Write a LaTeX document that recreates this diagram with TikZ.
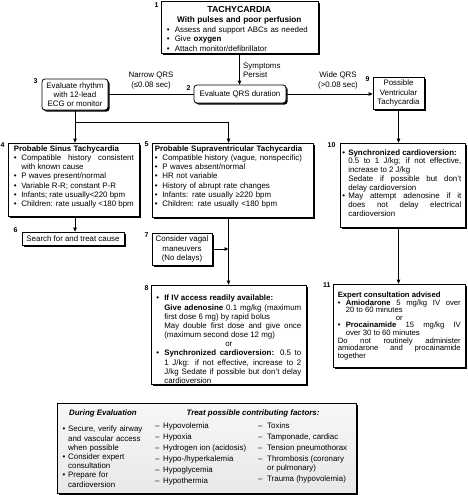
\documentclass[tikz,border=0pt]{standalone}
\usepackage{fontspec}
\setmainfont{Liberation Sans}
\usetikzlibrary{shadows,arrows.meta,calc}
\newcommand{\Fsz}{\fontsize{7.9}{9.15}\selectfont}
\newlength{\Hng}
\setlength{\Hng}{7.5pt}
\newcommand{\Bul}{\par\noindent\hangindent=\Hng\hangafter=1\makebox[\Hng][l]{\textbullet}\ignorespaces}
\newcommand{\Cont}{\par\noindent\hangindent=\Hng\hangafter=0\ignorespaces}
\newcommand{\Ctr}[1]{\par\noindent\makebox[\linewidth]{#1}\par}
\hyphenpenalty=10000
\exhyphenpenalty=10000
\tolerance=9999
\hbadness=10000
\begin{document}
\begin{tikzpicture}[x=1pt,y=-1pt,
  box/.style={draw, line width=0.8pt, fill=white, inner sep=0pt,
    drop shadow={shadow xshift=1.6pt, shadow yshift=-1.6pt, fill=black, opacity=1}},
  rbox/.style={box, rounded corners=3pt},
  bbox/.style={box, top color=black!3, bottom color=black!9},
  ctext/.style={align=center, font=\Fsz},
  txt/.style={inner sep=0pt, align=justify, font=\Fsz, anchor=north west},
  rag/.style={inner sep=0pt, align=left, font=\Fsz, anchor=north west},
  num/.style={font=\fontsize{7}{8}\selectfont\bfseries, inner sep=0pt, anchor=east},
  lbl/.style={font=\Fsz, inner sep=0pt, align=center},
  head/.style={font=\Fsz\bfseries\itshape, inner sep=0pt},
  col/.style={inner sep=0pt, align=left, anchor=north west, font=\fontsize{7.9}{11.1}\selectfont},
  arr/.style={line width=0.9pt, -{Triangle[length=4pt,width=3.6pt]}},
  ln/.style={line width=0.9pt}]
\useasboundingbox (0,0) rectangle (467,495);

% boxes
\node[box, minimum width=157pt, minimum height=52pt] (b1) at (239.5,27) {};
\node[rbox, ctext, minimum width=92pt, minimum height=18pt] (b2) at (240,94) {Evaluate QRS duration};
\node[rbox, ctext, minimum width=66pt, minimum height=31pt] (b3) at (75,94.5) {Evaluate rhythm\\with 12-lead\\ECG or monitor};
\node[box, ctext, minimum width=51pt, minimum height=32pt] (b9) at (398.5,93) {Possible\\Ventricular\\Tachycardia};
\node[box, minimum width=131pt, minimum height=73pt] (b4) at (73.5,179.5) {};
\node[box, minimum width=161pt, minimum height=74pt] (b5) at (232.5,180) {};
\node[box, ctext, minimum width=102pt, minimum height=13pt] (b6) at (73,238.5) {Search for and treat cause};
\node[box, ctext, minimum width=60pt, minimum height=32pt] (b7) at (182,249) {Consider vagal\\maneuvers\\(No delays)};
\node[box, minimum width=155pt, minimum height=99pt] (b8) at (228.5,334.5) {};
\node[box, minimum width=125pt, minimum height=84pt] (b10) at (402.5,185) {};
\node[box, minimum width=132pt, minimum height=83pt] (b11) at (399,325.5) {};
\node[bbox, minimum width=299pt, minimum height=90pt] (bb) at (206.5,448) {};

% box texts
\node[rag, text width=145pt] (t1) at ([shift={(6,3)}]b1.north west) {\setlength{\Hng}{8pt}\Ctr{\fontsize{8.8}{9}\selectfont\bfseries TACHYCARDIA}\vspace{0.6pt}\Ctr{\fontsize{8.2}{9}\selectfont\bfseries With pulses and poor perfusion}\vspace{1pt}\Bul Assess and support ABCs as needed\Bul Give \textbf{oxygen}\Bul Attach monitor/defibrillator\par};

\node[txt, text width=120pt] (t4) at ([shift={(6,3)}]b4.north west) {\textbf{Probable Sinus Tachycardia}\Bul Compatible history consistent\linebreak with known cause\Bul P waves present/normal\Bul Variable R-R; constant P-R\Bul Infants; rate usually<220 bpm\Bul Children: rate usually <180 bpm\par};

\node[rag, text width=155pt] (t5) at ([shift={(3,3)}]b5.north west) {\textbf{Probable Supraventricular Tachycardia}\Bul Compatible history (vague, nonspecific)\Bul P waves absent/normal\Bul HR not variable\Bul History of abrupt rate changes\Bul Infants: rate usually ≥220 bpm\Bul Children: rate usually <180 bpm\par};

\node[txt, text width=145pt] (t8) at ([shift={(5.5,7)}]b8.north west) {\setlength{\Hng}{8pt}\Bul\textbf{If IV access readily available:}\Cont\textbf{Give adenosine} 0.1 mg/kg (maximum\linebreak first dose 6 mg) by rapid bolus\Cont May double first dose and give once\linebreak (maximum second dose 12 mg)\Ctr{or}\Bul\textbf{Synchronized cardioversion:} 0.5 to\linebreak 1 J/kg: if not effective, increase to 2\linebreak J/kg Sedate if possible but don't delay\linebreak cardioversion\par};

\node[txt, text width=119pt, font=\fontsize{7.9}{8.75}\selectfont] (t10) at ([shift={(2.5,3.5)}]b10.north west) {\setlength{\Hng}{6pt}\Bul\textbf{Synchronized cardioversion:}\Cont 0.5 to 1 J/kg; if not effective,\linebreak increase to 2 J/kg\Cont Sedate if possible but don't\linebreak delay cardioversion\Bul May attempt adenosine if it\linebreak does not delay electrical\linebreak cardioversion\par};

\node[txt, text width=123pt, font=\fontsize{7.7}{7.65}\selectfont] (t11) at ([shift={(5,8)}]b11.north west) {\setlength{\Hng}{8pt}\textbf{Expert consultation advised}\Bul\textbf{Amiodarone} 5 mg/kg IV over\linebreak 20 to 60 minutes\Ctr{or}\Bul\textbf{Procainamide} 15 mg/kg IV\linebreak over 30 to 60 minutes\par\noindent Do not routinely administer\linebreak amiodarone and procainamide\linebreak together\par};

% bottom box contents
\node[head] (h1) at (103,413) {During Evaluation};
\node[head] (h2) at (253,413) {Treat possible contributing factors:};
\node[rag, text width=92pt, font=\fontsize{7.9}{9.2}\selectfont] (c1) at (62.5,422.5) {\setlength{\Hng}{5.5pt}\Bul Secure, verify airway\newline and vascular access\newline when possible\Bul Consider expert\newline consultation\Bul Prepare for\newline cardioversion\par};
\node[col] (c2) at (155,422.5) {\makebox[8pt][l]{–}Hypovolemia\\\makebox[8pt][l]{–}Hypoxia\\\makebox[8pt][l]{–}Hydrogen ion (acidosis)\\\makebox[8pt][l]{–}Hypo-/hyperkalemia\\\makebox[8pt][l]{–}Hypoglycemia\\\makebox[8pt][l]{–}Hypothermia};
\node[col] (c3) at (258,422.5) {\makebox[9pt][l]{–}Toxins\\\makebox[9pt][l]{–}Tamponade, cardiac\\\makebox[9pt][l]{–}Tension pneumothorax\\\makebox[9pt][l]{–}Thrombosis (coronary\\[-2.1pt]\makebox[9pt][l]{}or pulmonary)\\\makebox[9pt][l]{–}Trauma (hypovolemia)};

% numbers
\node[num] (n1) at ([shift={(-2,4)}]b1.north west) {1};
\node[num] (n2) at ([shift={(-3,3)}]b2.north west) {2};
\node[num] (n3) at ([shift={(-4,2)}]b3.north west) {3};
\node[num] (n4) at ([shift={(-3,2)}]b4.north west) {4};
\node[num] (n5) at ([shift={(-3,2)}]b5.north west) {5};
\node[num] (n6) at ([shift={(-4,-2)}]b6.north west) {6};
\node[num] (n7) at ([shift={(-3,2)}]b7.north west) {7};
\node[num] (n8) at ([shift={(-2,3)}]b8.north west) {8};
\node[num] (n9) at ([shift={(-3,2)}]b9.north west) {9};
\node[num] (n10) at ([shift={(-4,2)}]b10.north west) {10};
\node[num] (n11) at ([shift={(-2,1)}]b11.north west) {11};

% labels
\node[lbl, anchor=west, align=left] (sp) at (243,70) {Symptoms\\Persist};
\node[lbl] (nq) at (151,80.5) {Narrow QRS\\(≤0.08 sec)};
\node[lbl] (wq) at (338,80.5) {Wide QRS\\(>0.08 sec)};

% connectors
\draw[arr] (b1.south) -- (b1.south |- b2.north);
\draw[ln] (b2.west) -- (b2.west -| b3.east);
\draw[arr] (b2.east) -- (b2.east -| b9.west);
\coordinate (j) at (b3.south |- 0,122);
\draw[ln] (b3.south) -- (j);
\draw[arr] (j) -- (j |- b4.north);
\draw[arr] (j) -| (b8.north |- b5.north);
\draw[arr] (j |- b4.south) -- (j |- b6.north);
\draw[arr] (b8.north |- b5.south) -- (b8.north);
\draw[arr] (b7.east) -- (b7.east -| b8.north);
\draw[arr] (b9.south) -- (b9.south |- b10.north);
\draw[arr] (b9.south |- b10.south) -- (b9.south |- b11.north);
\end{tikzpicture}
\end{document}
